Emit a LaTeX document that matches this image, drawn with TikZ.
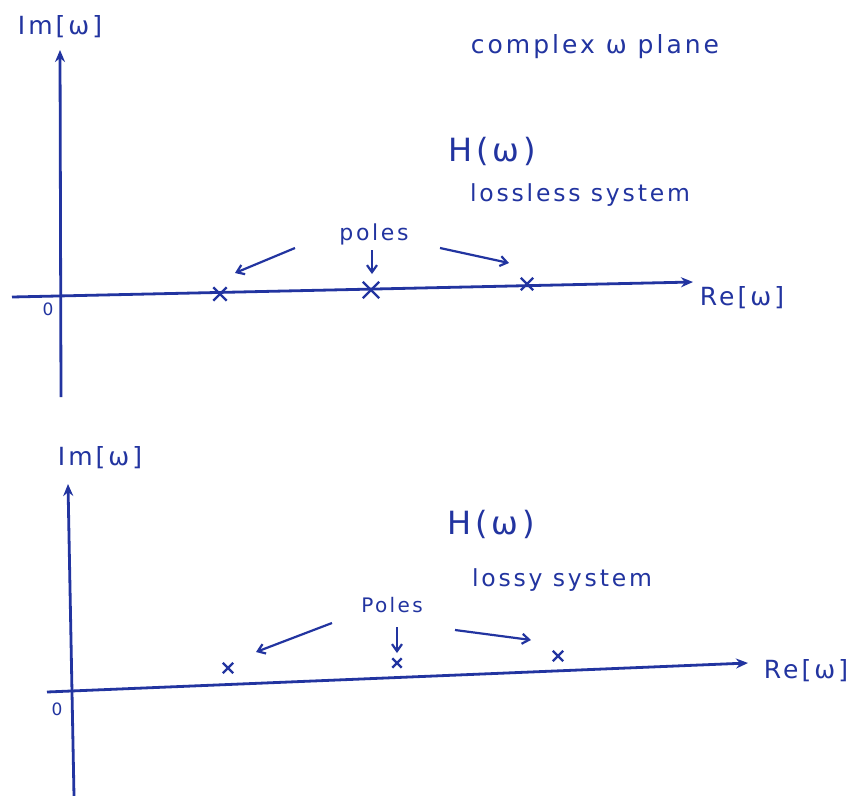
\documentclass[tikz,border=0pt]{standalone}
\usepackage{fontspec}
\setmainfont{DejaVu Sans}
\newfontfamily\handfont[LetterSpace=12]{DejaVu Sans}
\usetikzlibrary{arrows.meta,shapes.misc}
\definecolor{ink}{RGB}{34,52,160}
\tikzset{
  axis/.style={draw=ink,line width=2.8pt,-{Stealth[length=12pt,width=10pt]}},
  ptr/.style={draw=ink,line width=2.2pt,-{Straight Barb[length=7pt,width=10pt]}},
  txt/.style={text=ink,inner sep=0pt,font=\handfont\fontsize{#1}{#1}\selectfont},
  pole/.style={draw=ink,line width=2.4pt,cross out,minimum size=#1,inner sep=0pt},
  pole/.default=8pt
}
\begin{document}
\begin{tikzpicture}[x=1pt,y=-1pt]
\useasboundingbox[fill=white] (0,0) rectangle (855,796);
% ---------- top diagram ----------
\coordinate (t-vb) at (61,397);
\coordinate (t-vt) at (60,50);
\coordinate (t-hl) at (12,297);
\coordinate (t-hr) at (693,282);
\draw[axis] (t-vb) -- (t-vt);
\draw[axis] (t-hl) -- (t-hr);
\node[txt=25] (t-im) at (60,27) {Im[ω]};
\node[txt=25] (t-re) at (742,298) {Re[ω]};
\node[txt=17] (t-zero) at (48,309) {0};
\node[txt=25] (t-title) at (595,47) {complex ω plane};
\node[txt=32] (t-h) at (492,151) {H(ω)};
\node[txt=23.5] (t-sys) at (580,195) {lossless system};
\node[txt=22] (t-poles) at (374,234) {poles};
\node[pole=11pt] (t-p1) at (220,294) {};
\node[pole=14pt] (t-p2) at (371,290) {};
\node[pole=10pt] (t-p3) at (527,284) {};
\coordinate (t-a1s) at (295,248);
\coordinate (t-a1e) at (235,273);
\coordinate (t-a2s) at (372,250);
\coordinate (t-a2e) at (372,274);
\coordinate (t-a3s) at (440,248);
\coordinate (t-a3e) at (509,263);
\draw[ptr] (t-a1s) -- (t-a1e);
\draw[ptr] (t-a2s) -- (t-a2e);
\draw[ptr] (t-a3s) -- (t-a3e);
% ---------- bottom diagram ----------
\coordinate (b-vb) at (74,796);
\coordinate (b-vt) at (68,484);
\coordinate (b-hl) at (47,692);
\coordinate (b-hr) at (748,663);
\draw[axis] (b-vb) -- (b-vt);
\draw[axis] (b-hl) -- (b-hr);
\node[txt=25] (b-im) at (100,458) {Im[ω]};
\node[txt=25] (b-re) at (806,671) {Re[ω]};
\node[txt=17] (b-zero) at (57,709) {0};
\node[txt=32] (b-h) at (491,524) {H(ω)};
\node[txt=23.5] (b-sys) at (562,580) {lossy system};
\node[txt=20] (b-poles) at (392,605) {Poles};
\node[pole=8pt] (b-p1) at (228,668) {};
\node[pole=7pt] (b-p2) at (397,663) {};
\node[pole=8pt] (b-p3) at (558,656) {};
\coordinate (b-a1s) at (332,623);
\coordinate (b-a1e) at (256,652);
\coordinate (b-a2s) at (397,627);
\coordinate (b-a2e) at (397,653);
\coordinate (b-a3s) at (455,630);
\coordinate (b-a3e) at (531,640);
\draw[ptr] (b-a1s) -- (b-a1e);
\draw[ptr] (b-a2s) -- (b-a2e);
\draw[ptr] (b-a3s) -- (b-a3e);
\end{tikzpicture}
\end{document}
